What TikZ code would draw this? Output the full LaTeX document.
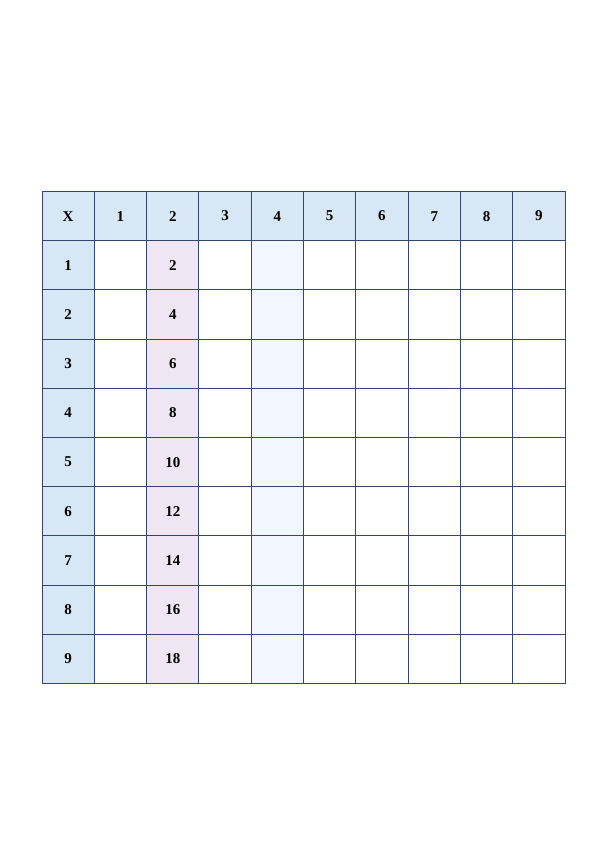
\documentclass[tikz,border=0pt]{standalone}
\usepackage{fontspec}
\setmainfont{Liberation Serif}
\definecolor{hdr}{HTML}{D7E7F5}
\definecolor{pinkc}{HTML}{F0E5F2}
\definecolor{pale}{HTML}{F1F7FE}
\definecolor{gridc}{HTML}{34466F}
\tikzset{cellbox/.style={draw=gridc, line width=0.9pt, minimum width=52.3pt, minimum height=49.2pt, inner sep=0pt, font=\fontsize{15}{17}\selectfont\bfseries}}
\begin{document}
\begin{tikzpicture}[x=1pt,y=-1pt]
\useasboundingbox (0,0) rectangle (597,843);
\foreach \c in {0,...,9}{
  \foreach \r in {0,...,9}{
    \pgfmathtruncatemacro{\prod}{\c*\r}
    \ifnum\r=0
      \ifnum\c=0
        \node[cellbox, fill=hdr] (c\c r\r) at ({42+52.3*\c+26.15},{191.5+49.2*\r+24.6}) {X};
      \else
        \node[cellbox, fill=hdr] (c\c r\r) at ({42+52.3*\c+26.15},{191.5+49.2*\r+24.6}) {\c};
      \fi
    \else
      \ifnum\c=0
        \node[cellbox, fill=hdr] (c\c r\r) at ({42+52.3*\c+26.15},{191.5+49.2*\r+24.6}) {\r};
      \else\ifnum\c=2
        \node[cellbox, fill=pinkc] (c\c r\r) at ({42+52.3*\c+26.15},{191.5+49.2*\r+24.6}) {\prod};
      \else\ifnum\c=4
        \node[cellbox, fill=pale] (c\c r\r) at ({42+52.3*\c+26.15},{191.5+49.2*\r+24.6}) {};
      \else
        \node[cellbox, fill=white] (c\c r\r) at ({42+52.3*\c+26.15},{191.5+49.2*\r+24.6}) {};
      \fi\fi\fi
    \fi
  }
}
\end{tikzpicture}
\end{document}
